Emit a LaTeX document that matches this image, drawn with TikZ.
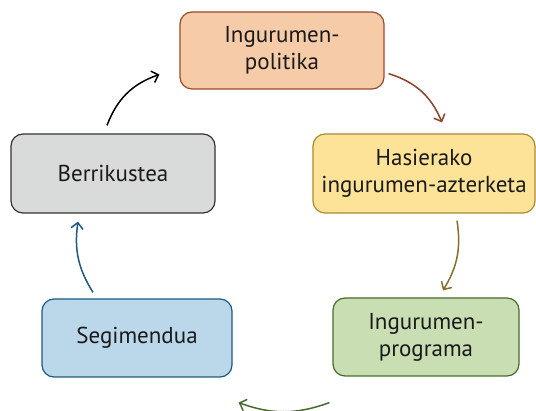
\documentclass[tikz,border=0pt]{standalone}
\usepackage{fontspec}
\setmainfont{PT Sans}
\usetikzlibrary{arrows.meta}

\definecolor{polfill}{HTML}{F6CBA8}
\definecolor{poldraw}{HTML}{9A4A2A}
\definecolor{hasfill}{HTML}{FDE397}
\definecolor{hasdraw}{HTML}{A88A30}
\definecolor{berfill}{HTML}{D9DADA}
\definecolor{berdraw}{HTML}{333333}
\definecolor{segfill}{HTML}{BBD8EB}
\definecolor{segdraw}{HTML}{1D5A80}
\definecolor{profill}{HTML}{C9DFB3}
\definecolor{prodraw}{HTML}{4A6B2E}
\definecolor{txt}{HTML}{1A1A1A}

\tikzset{
  box/.style={draw, rounded corners=12pt, line width=1.2pt, align=center,
    inner sep=0pt, text=txt, font=\fontsize{23}{27}\selectfont},
  flow/.style={line width=1.5pt, -{Straight Barb[length=6pt,width=12pt]}}
}

\begin{document}
\begin{tikzpicture}[x=1pt,y=-1pt]
\useasboundingbox (0,0) rectangle (536,411);
  \node[box, fill=polfill, draw=poldraw, minimum width=204, minimum height=77]
        (pol) at (282,50.5)   {Ingurumen-\\politika};
  \node[box, fill=hasfill, draw=hasdraw, minimum width=222, minimum height=79]
        (has) at (424,173.5)  {Hasierako\\ingurumen-azterketa};
  \node[box, fill=berfill, draw=berdraw, minimum width=204, minimum height=79]
        (ber) at (113,173.5)  {Berrikustea};
  \node[box, fill=segfill, draw=segdraw, minimum width=190, minimum height=78]
        (seg) at (137,338)    {Segimendua};
  \node[box, fill=profill, draw=prodraw, minimum width=186, minimum height=78]
        (pro) at (426,337)    {Ingurumen-\\programa};

  \path[flow]
        ([xshift=4,yshift=16]pol.south east) edge[bend left=25, draw=poldraw!90!black]
            ([xshift=18,yshift=11]has.north)
        ([xshift=33,yshift=-7]has.south) edge[bend left=20, draw=hasdraw!80!black]
            ([xshift=17,yshift=7]pro.north)
        ([xshift=-3,yshift=-26]pro.south west) edge[bend left=20, draw=prodraw]
            ([xshift=6,yshift=-25]seg.south east)
        ([xshift=-44,yshift=6]seg.north) edge[bend left=20, draw=segdraw]
            ([xshift=-35,yshift=-8]ber.south)
        ([xshift=-6,yshift=8]ber.north) edge[bend left=25, draw=black]
            ([xshift=-20,yshift=-24]pol.west);
\end{tikzpicture}
\end{document}
